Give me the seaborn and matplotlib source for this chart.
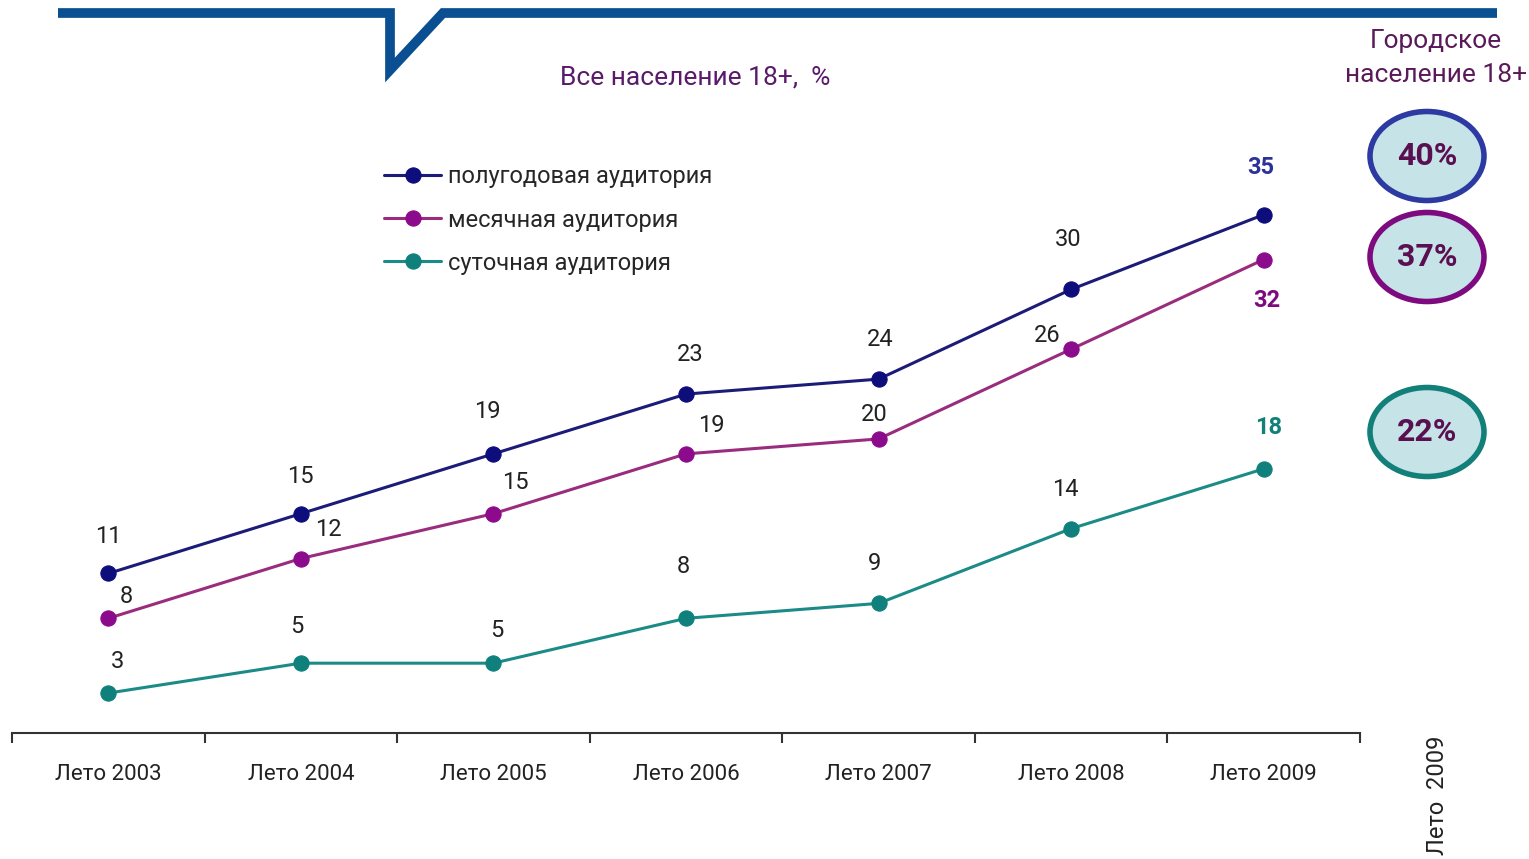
import pandas as pd
import numpy as np
import seaborn as sns
import matplotlib.pyplot as plt
from matplotlib.lines import Line2D
from matplotlib.patches import Ellipse

# Данные
periods = ['Лето 2003', 'Лето 2004', 'Лето 2005', 'Лето 2006', 'Лето 2007', 'Лето 2008', 'Лето 2009']
series_names = ['полугодовая аудитория', 'месячная аудитория', 'суточная аудитория']
polugod = [11, 15, 19, 23, 24, 30, 35]
mesyach = [8, 12, 15, 19, 20, 26, 32]
sutoch = [3, 5, 5, 8, 9, 14, 18]
city_values = ['40%', '37%', '22%']

line_colors = ['#1c1c78', '#9a2c7e', '#1b8b88']
marker_colors = ['#0d0d7c', '#8c0a8c', '#0f807c']
ellipse_edges = ['#2c3aa2', '#7e0a80', '#128078']

df = pd.DataFrame({
    'Период': periods * 3,
    'Значение': polugod + mesyach + sutoch,
    'Аудитория': [s for s in series_names for _ in periods],
})

sns.set_style('white')
plt.rcParams['font.family'] = ['Roboto', 'DejaVu Sans']

fig = plt.figure(figsize=(15.29, 8.59), dpi=100)
ax = fig.add_axes([12 / 1529, 1 - 733 / 859, 1348 / 1529, 623 / 859])

sns.lineplot(data=df, x='Период', y='Значение', hue='Аудитория', hue_order=series_names,
             palette=line_colors, marker='o', markersize=11, linewidth=2.2,
             legend=False, ax=ax)
for line, mc in zip(ax.lines, marker_colors):
    line.set_markerfacecolor(mc)
    line.set_markeredgecolor(mc)

ax.set_xlim(-0.5, 6.5)
ax.set_ylim(0.33, 42.0)
ax.set_xlabel('')
ax.set_ylabel('')
ax.set_yticks([])
for s in ['top', 'left', 'right']:
    ax.spines[s].set_visible(False)
ax.spines['bottom'].set_color('#333333')
ax.spines['bottom'].set_linewidth(1.5)

# Деления на границах категорий, подписи по центру
ax.set_xticks(np.arange(-0.5, 7, 1))
ax.set_xticklabels([''] * 8)
ax.tick_params(axis='x', which='major', bottom=True, direction='out', length=7, width=1.5, color='#333333')
ax.set_xticks(np.arange(len(periods)), minor=True)
ax.set_xticklabels(periods, minor=True, fontsize=16, color='#222222')
ax.tick_params(axis='x', which='minor', bottom=True, length=0, pad=22)

# Подписи значений (смещения в пикселях)
offsets = {
    0: [(0, 37), (0, 37), (-6, 42), (4, 40), (2, 40), (-3, 50), (-3, 47)],
    1: [(18, 22), (28, 29), (22, 31), (25, 28), (-4, 24), (-24, 14), (3, -41)],
    2: [(9, 32), (-4, 37), (3, 33), (-3, 52), (-4, 40), (-6, 39), (5, 41)],
}
label_last = ['#2b3399', '#7e0a80', '#128078']
for i, vals in enumerate([polugod, mesyach, sutoch]):
    for j, v in enumerate(vals):
        last = j == len(vals) - 1
        ax.annotate(str(v), (j, v), xytext=offsets[i][j], textcoords='offset pixels',
                    ha='center', va='center', fontsize=17, color=label_last[i] if last else '#222222',
                    fontweight='bold' if last else 'normal')

ax.legend(ax.lines[:3], series_names, loc='upper left', bbox_to_anchor=(375 / 1529, 1 - 156 / 859),
          bbox_transform=fig.transFigure, frameon=False, fontsize=17, handlelength=2.4,
          handletextpad=0.3, labelspacing=0.85, borderaxespad=0)

# Верхняя декоративная линия
px = lambda x, y: (x / 1529, 1 - y / 859)
xs, ys = zip(*[px(58, 13), px(390, 13), px(390, 70), px(443, 13), px(1497, 13)])
fig.add_artist(Line2D(xs, ys, color='#0a4f91', linewidth=7, solid_joinstyle='miter',
                      solid_capstyle='butt'))

fig.text(*px(695, 77), 'Все население 18+,  %', ha='center', va='center', fontsize=19, color='#5a1a6a')
fig.text(*px(1436, 58), 'Городское\nнаселение 18+', ha='center', va='center', fontsize=19,
         color='#5a1a5a', linespacing=1.55)

for (val, ec, yc) in zip(city_values, ellipse_edges, [156, 257, 432]):
    cx, cy = px(1427, yc)
    fig.add_artist(Ellipse((cx, cy), 114 / 1529, 89 / 859, transform=fig.transFigure,
                           facecolor='#c6e4e8', edgecolor=ec, linewidth=4))
    fig.text(cx, cy, val, ha='center', va='center', fontsize=23, fontweight='bold', color='#5a1050')

fig.text(*px(1437, 795), 'Лето  2009', rotation=90, ha='center', va='center', fontsize=17, color='#222222')

fig.savefig('out.png', dpi=100)
